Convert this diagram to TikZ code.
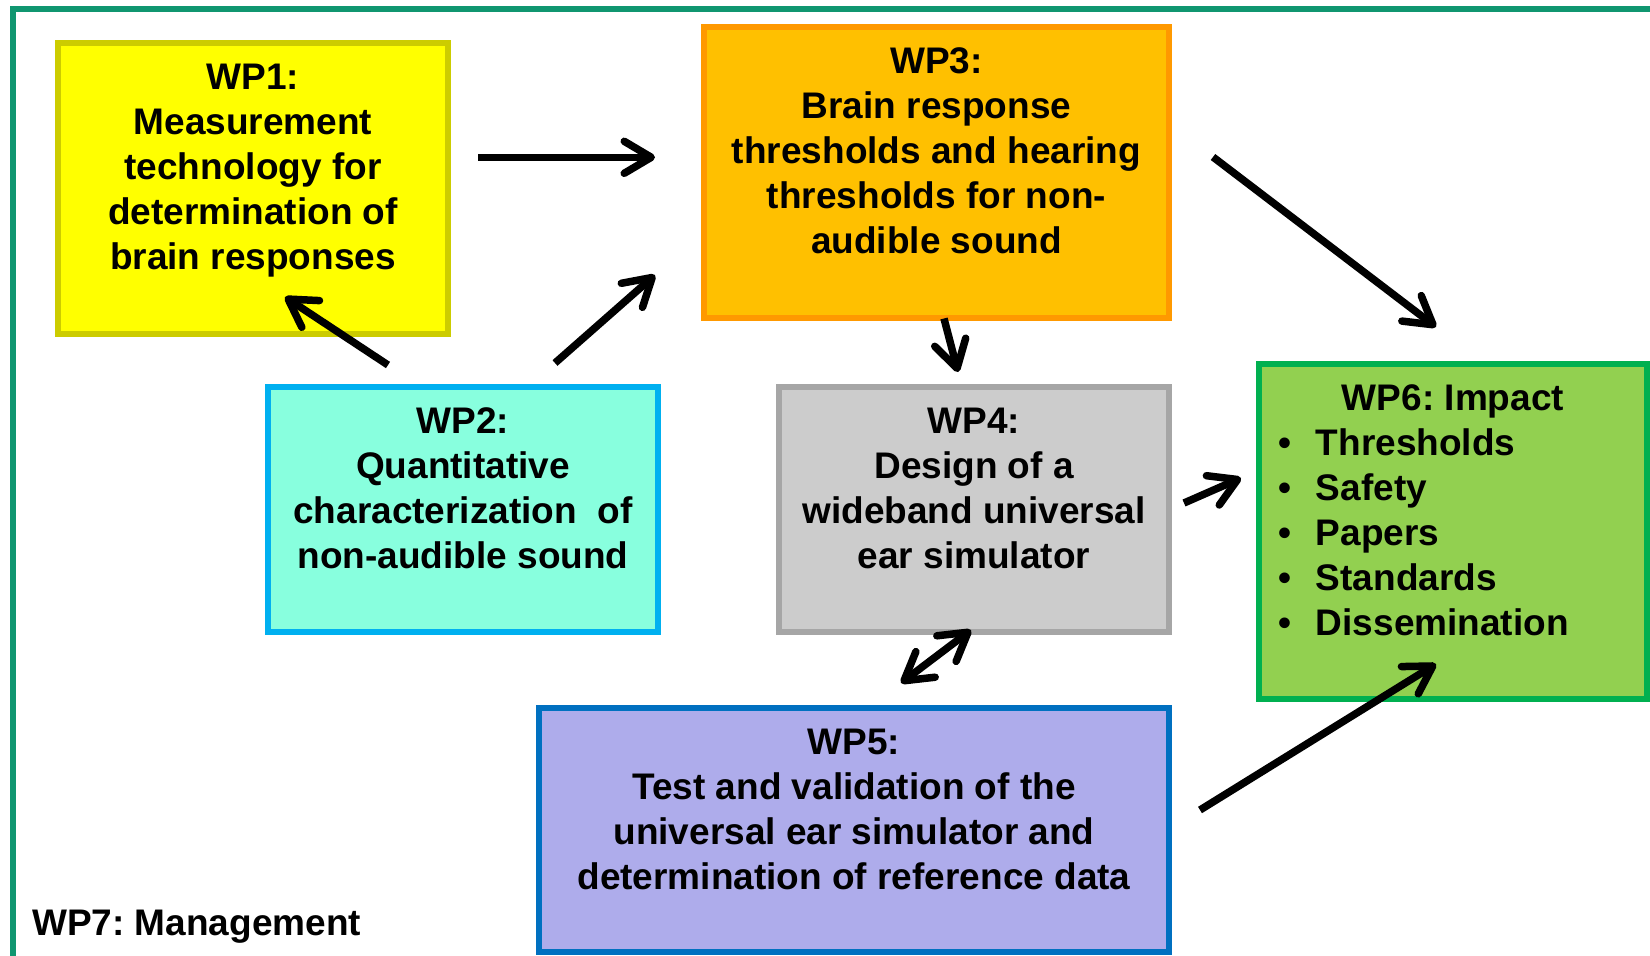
\documentclass[tikz,border=0pt]{standalone}
\usepackage{fontspec}
\setmainfont{Liberation Sans}
\usetikzlibrary{arrows.meta}
\frenchspacing
\definecolor{frameC}{RGB}{16,150,112}
\definecolor{wpAfill}{HTML}{FFFF00}
\definecolor{wpAdraw}{HTML}{CCCC00}
\definecolor{wpCfill}{HTML}{FFC000}
\definecolor{wpCdraw}{HTML}{FF9900}
\definecolor{wpBfill}{HTML}{88FFDE}
\definecolor{wpBdraw}{HTML}{00B0F0}
\definecolor{wpDfill}{HTML}{CCCCCC}
\definecolor{wpDdraw}{HTML}{A6A6A6}
\definecolor{wpFfill}{HTML}{92D050}
\definecolor{wpFdraw}{HTML}{00B050}
\definecolor{wpEfill}{HTML}{AEACEB}
\definecolor{wpEdraw}{HTML}{0070C0}
\newcommand\wpstrut{\rule{0pt}{30pt}}
\begin{document}
\begin{tikzpicture}[x=1pt,y=-1pt,
  wpbox/.style={draw, rectangle, line width=6pt, inner sep=0pt},
  wptext/.style={align=center, inner sep=0pt, anchor=north, font=\fontsize{37}{45}\selectfont\bfseries\frenchspacing},
  flow/.style={line width=7.5pt, -{Straight Barb[length=27pt,width=32pt,round]}},
  flowboth/.style={line width=7.5pt, {Straight Barb[length=27pt,width=32pt,round]}-{Straight Barb[length=27pt,width=32pt,round]}}]
\useasboundingbox (0,0) rectangle (1650,956);
\clip (0,0) rectangle (1650,956);
\fill[white] (0,0) rectangle (1650,956);
\draw[frameC, line width=6pt] (13,9) rectangle (1720,1020);

% boxes
\node[wpbox, draw=wpAdraw, fill=wpAfill, minimum width=390pt, minimum height=291pt] (wp1) at (253,188.5) {};
\node[wpbox, draw=wpCdraw, fill=wpCfill, minimum width=465pt, minimum height=291pt] (wp3) at (936.5,172.5) {};
\node[wpbox, draw=wpBdraw, fill=wpBfill, minimum width=390pt, minimum height=245pt] (wp2) at (463,509.5) {};
\node[wpbox, draw=wpDdraw, fill=wpDfill, minimum width=390pt, minimum height=245pt] (wp4) at (974,509.5) {};
\node[wpbox, draw=wpFdraw, fill=wpFfill, minimum width=388pt, minimum height=335pt] (wp6) at (1453,531.5) {};
\node[wpbox, draw=wpEdraw, fill=wpEfill, minimum width=630pt, minimum height=244pt] (wp5) at (854,830) {};

% texts
\node[wptext] (t1) at (253,59) {\wpstrut WP1:\\Measurement\\technology for\\determination of\\brain responses};
\node[wptext] (t3) at (936.5,43) {\wpstrut WP3:\\Brain response\\thresholds and hearing\\thresholds for non-\\audible sound};
\node[wptext] (t2) at (463,403) {\wpstrut WP2:\\Quantitative\\characterization\ \ of\\non-audible sound};
\node[wptext] (t4) at (974,403) {\wpstrut WP4:\\Design of a\\wideband universal\\ear simulator};
\node[wptext] (t5) at (854,724) {\wpstrut WP5:\\Test and validation of the\\universal ear simulator and\\determination of reference data};
\node[wptext] (t6) at (1453,380) {\wpstrut WP6: Impact};
\node[wptext, align=left, anchor=north west] (t6list) at (1278.5,425) {%
\wpstrut\makebox[37.2pt][l]{•}Thresholds\\
\makebox[37.2pt][l]{•}Safety\\
\makebox[37.2pt][l]{•}Papers\\
\makebox[37.2pt][l]{•}Standards\\
\makebox[37.2pt][l]{•}Dissemination};
\node[anchor=base west, inner sep=0pt, font=\fontsize{37}{45}\selectfont\bfseries\frenchspacing] (t7) at (32,935) {WP7: Management};

% arrow end points
\coordinate (a1s) at (478,157.3);
\coordinate (a1e) at (655,157.3);
\coordinate (a2s) at (388,365);
\coordinate (a2e) at (285,297);
\coordinate (a3s) at (555,363);
\coordinate (a3e) at (655,275);
\coordinate (a4s) at (1213,157);
\coordinate (a4e) at (1436,327);
\coordinate (a5s) at (944,318.5);
\coordinate (a5e) at (958,372);
\coordinate (a6s) at (1184,503);
\coordinate (a6e) at (1241,478);
\coordinate (a7s) at (971,630);
\coordinate (a7e) at (901,683);
\coordinate (a8s) at (1200,810);
\coordinate (a8e) at (1436,664);

\draw[flow] (a1s) -- (a1e);
\draw[flow] (a2s) -- (a2e);
\draw[flow] (a3s) -- (a3e);
\draw[flow] (a4s) -- (a4e);
\draw[flow] (a5s) -- (a5e);
\draw[flow] (a6s) -- (a6e);
\draw[flowboth] (a7s) -- (a7e);
\draw[flow] (a8s) -- (a8e);
\end{tikzpicture}
\end{document}
